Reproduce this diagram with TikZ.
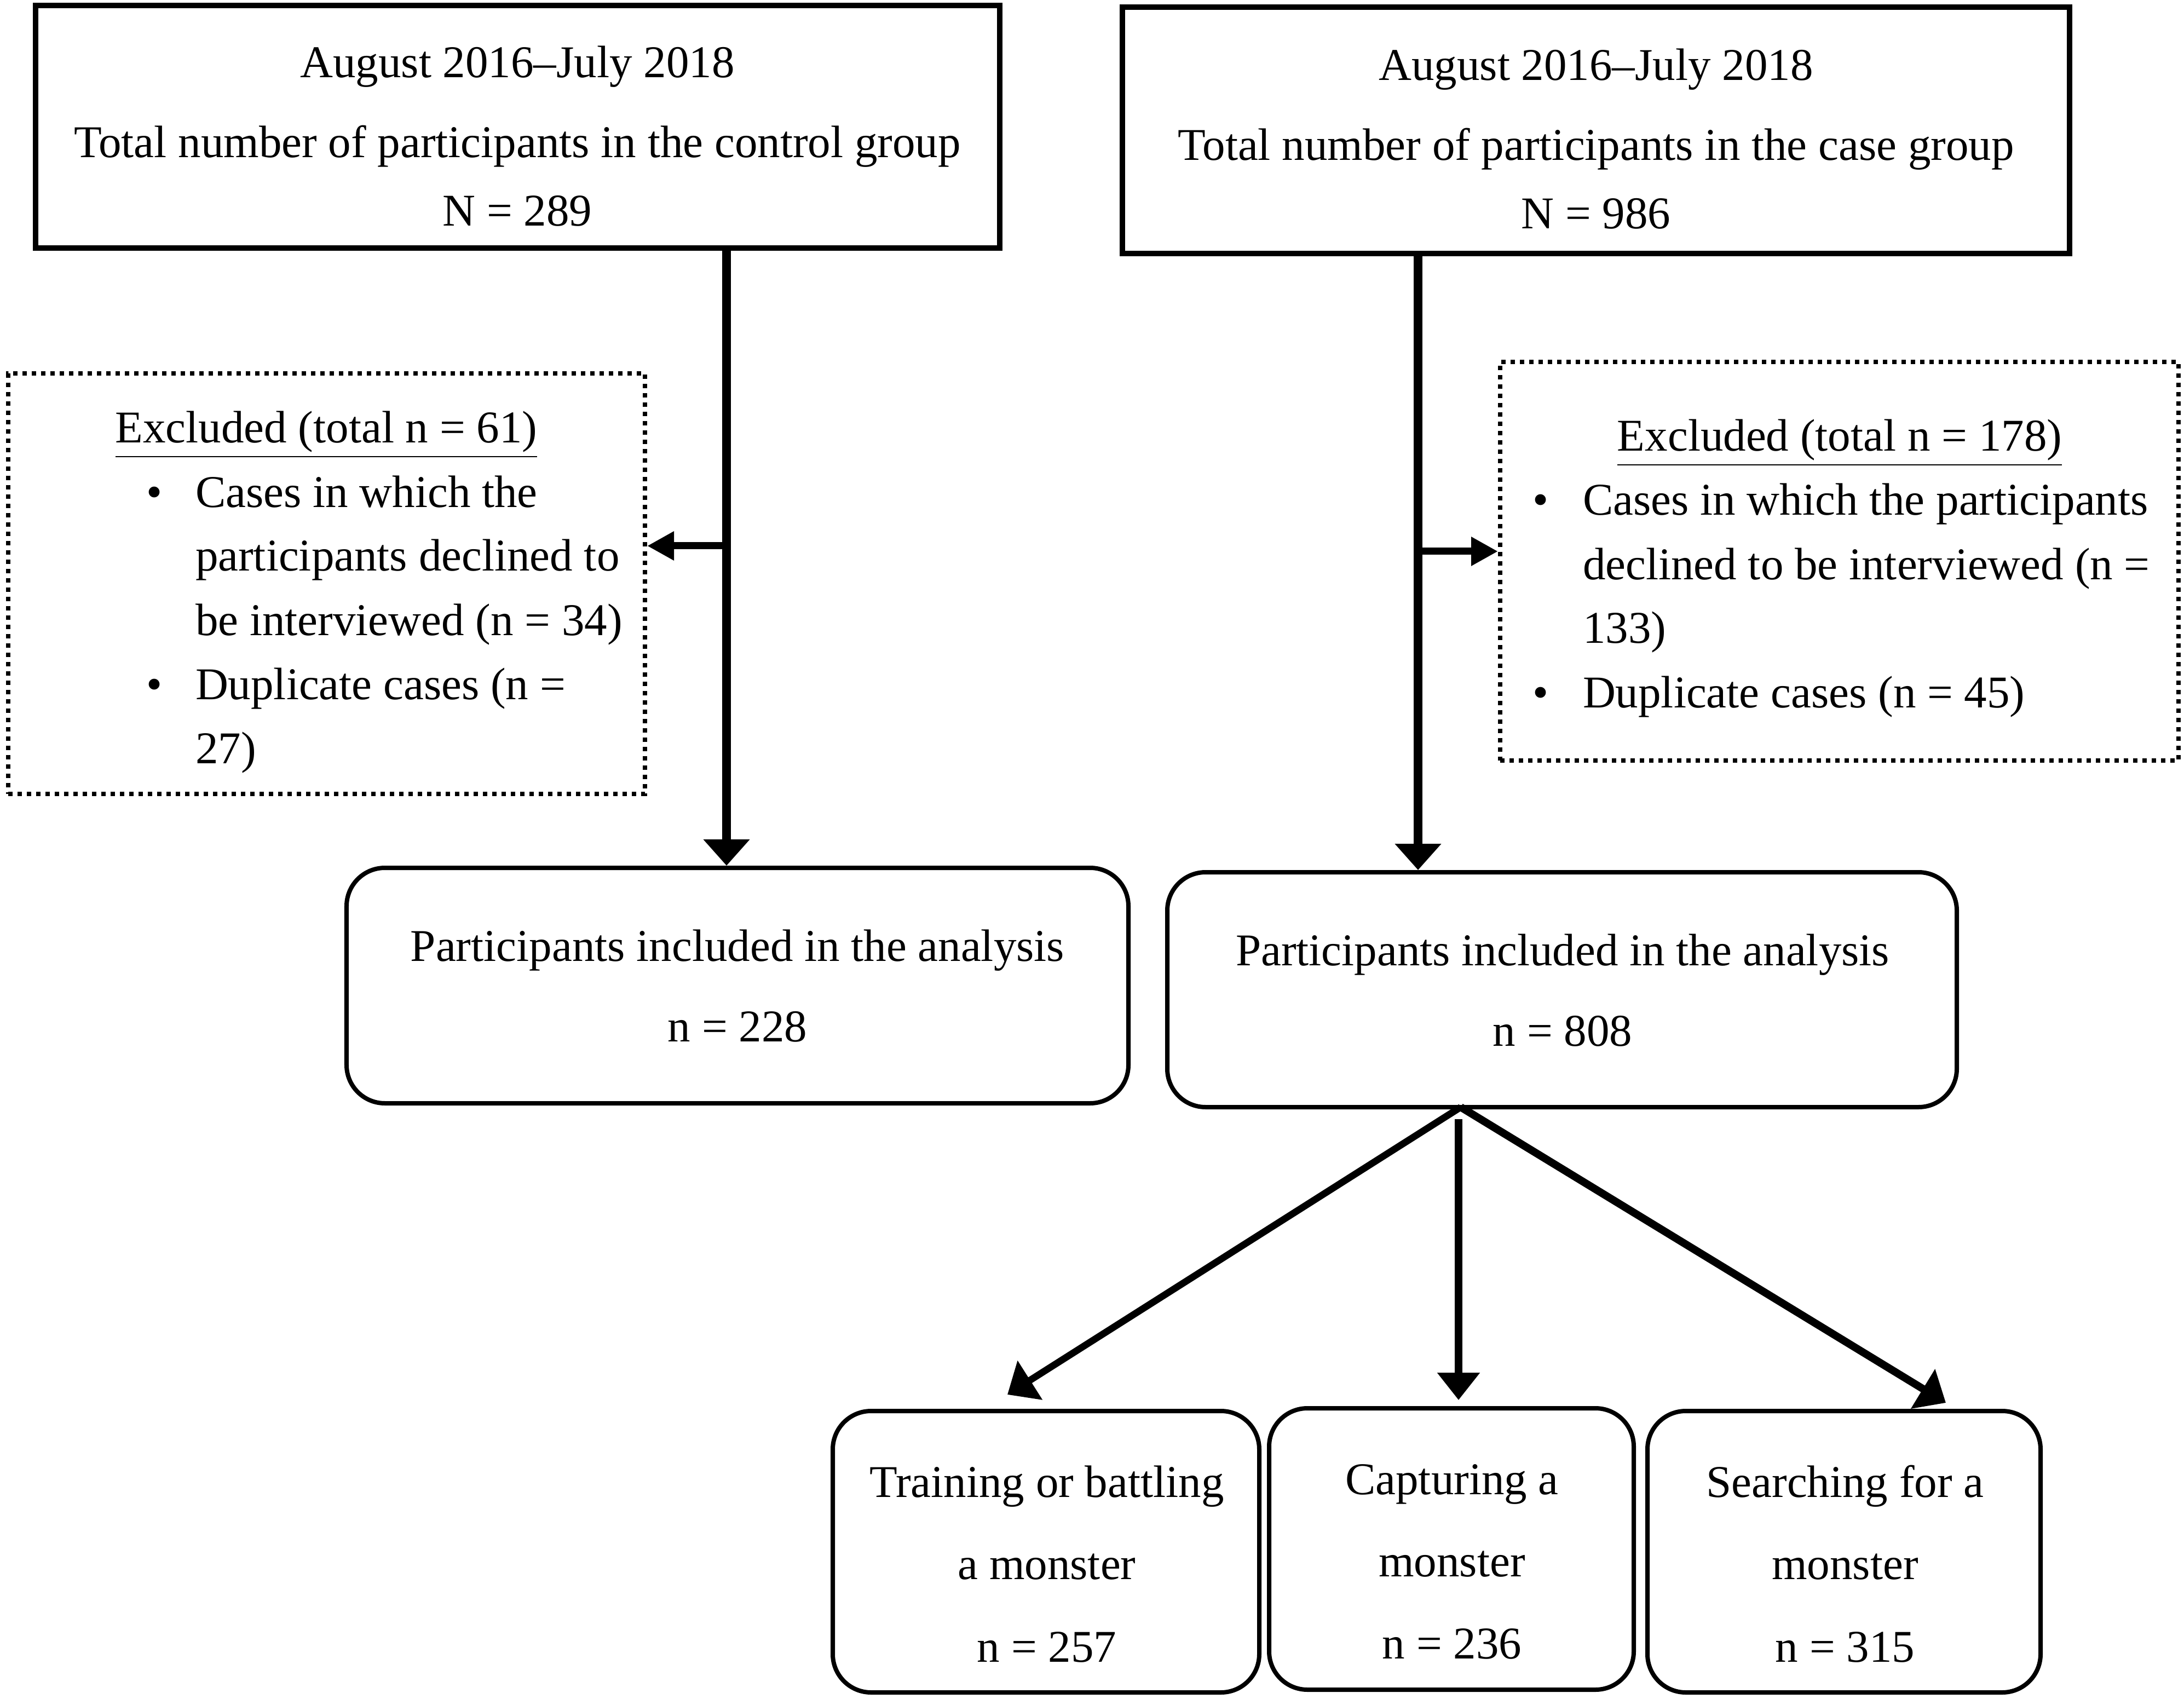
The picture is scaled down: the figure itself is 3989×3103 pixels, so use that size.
\documentclass[tikz,border=0pt]{standalone}
\usepackage{fontspec}
\setmainfont{Liberation Serif}
\usetikzlibrary{arrows.meta}
\begin{document}
\begin{tikzpicture}[x=0.2pt,y=-0.2pt,
  txt/.style={inner sep=0pt, font=\fontsize{16.6}{20}\selectfont},
  sqbox/.style={draw, line width=2pt, inner sep=0pt},
  rbox/.style={draw, line width=1.6pt, rounded corners=14pt, inner sep=0pt},
  dotbox/.style={draw, line width=1.6pt, dash pattern=on 1.6pt off 1.8pt, inner sep=0pt},
  bigarrow/.style={line width=3.2pt, -{Triangle[width=16.4pt,length=9.6pt]}},
  brarrow/.style={line width=2.6pt, -{Triangle[width=10pt,length=9.8pt]}},
  diagarrow/.style={line width=2.5pt, -{Triangle[width=16.4pt,length=9.8pt]}},
  midarrow/.style={line width=2.8pt, -{Triangle[width=15pt,length=10pt]}}
]
\useasboundingbox (0,0) rectangle (3989,3103);

% boxes
\node[sqbox, minimum width=352.2pt, minimum height=88.6pt] (tl) at (945.5,231.5) {};
\node[sqbox, minimum width=346pt, minimum height=90pt] (tr) at (2915,238) {};
\node[dotbox, minimum width=232.6pt, minimum height=153.6pt] (lex) at (596.5,1066) {};
\node[dotbox, minimum width=247.8pt, minimum height=145.6pt] (rex) at (3359.5,1025) {};
\node[rbox, minimum width=285.6pt, minimum height=86pt] (ml) at (1347,1800) {};
\node[rbox, minimum width=288.4pt, minimum height=85.8pt] (mr) at (2853,1807.5) {};
\node[rbox, minimum width=155.8pt, minimum height=102.8pt] (b1) at (1910.5,2834) {};
\node[rbox, minimum width=133.2pt, minimum height=102.8pt] (b2) at (2651,2829) {};
\node[rbox, minimum width=143.6pt, minimum height=102.8pt] (b3) at (3368,2834) {};

% top texts
\node[txt, anchor=base] (tl1) at (945,142) {August 2016–July 2018};
\node[txt, anchor=base] (tl2) at (945,288) {Total number of participants in the control group};
\node[txt, anchor=base] (tl3) at (945,413) {N = 289};
\node[txt, anchor=base] (tr1) at (2915,147) {August 2016–July 2018};
\node[txt, anchor=base] (tr2) at (2915,293) {Total number of participants in the case group};
\node[txt, anchor=base] (tr3) at (2915,418) {N = 986};

% excluded left
\node[txt, anchor=base] (le0) at (596,809) {\underline{Excluded (total n = 61)}};
\node[txt, anchor=base] (lbu1) at (282,926) {•};
\node[txt, anchor=base west] (le1) at (356,926) {Cases in which the};
\node[txt, anchor=base west] (le2) at (356,1043) {participants declined to};
\node[txt, anchor=base west] (le3) at (356,1160) {be interviewed (n = 34)};
\node[txt, anchor=base] (lbu2) at (282,1277) {•};
\node[txt, anchor=base west] (le4) at (356,1277) {Duplicate cases (n =};
\node[txt, anchor=base west] (le5) at (356,1394) {27)};

% excluded right
\node[txt, anchor=base] (re0) at (3360,824) {\underline{Excluded (total n = 178)}};
\node[txt, anchor=base] (rbu1) at (2814,941) {•};
\node[txt, anchor=base west] (re1) at (2890,941) {Cases in which the participants};
\node[txt, anchor=base west] (re2) at (2890,1058) {declined to be interviewed (n =};
\node[txt, anchor=base west] (re3) at (2890,1175) {133)};
\node[txt, anchor=base] (rbu2) at (2814,1292) {•};
\node[txt, anchor=base west] (re4) at (2890,1292) {Duplicate cases (n = 45)};

% middle texts
\node[txt, anchor=base] (ml1) at (1347,1755) {Participants included in the analysis};
\node[txt, anchor=base] (ml2) at (1347,1902) {n = 228};
\node[txt, anchor=base] (mr1) at (2854,1763) {Participants included in the analysis};
\node[txt, anchor=base] (mr2) at (2854,1910) {n = 808};

% bottom texts
\node[txt, anchor=base] (b1a) at (1912,2734) {Training or battling};
\node[txt, anchor=base] (b1b) at (1912,2884) {a monster};
\node[txt, anchor=base] (b1c) at (1912,3035) {n = 257};
\node[txt, anchor=base] (b2a) at (2652,2729) {Capturing a};
\node[txt, anchor=base] (b2b) at (2652,2879) {monster};
\node[txt, anchor=base] (b2c) at (2652,3029) {n = 236};
\node[txt, anchor=base] (b3a) at (3370,2734) {Searching for a};
\node[txt, anchor=base] (b3b) at (3370,2884) {monster};
\node[txt, anchor=base] (b3c) at (3370,3035) {n = 315};

% connectors
\coordinate (lx) at (1327,997);
\coordinate (rx) at (2590,1007);
\draw[bigarrow] (tl.south -| lx) -- (ml.north -| lx);
\draw[brarrow] (lx) -- (lx -| lex.east);
\draw[bigarrow] (tr.south -| rx) -- (mr.north -| rx);
\draw[brarrow] (rx) -- (rx -| rex.west);

\coordinate (fk) at (2668,2022);
\coordinate (t1) at (1840,2547);
\coordinate (t2) at (2664,2557);
\coordinate (t3) at (3554,2562);
\draw[diagarrow] (fk) -- (t1);
\draw[midarrow, shorten <=3.5pt] (t2 |- mr.south) -- (t2);
\draw[diagarrow, line width=2.8pt] (fk) -- (t3);
\end{tikzpicture}
\end{document}
